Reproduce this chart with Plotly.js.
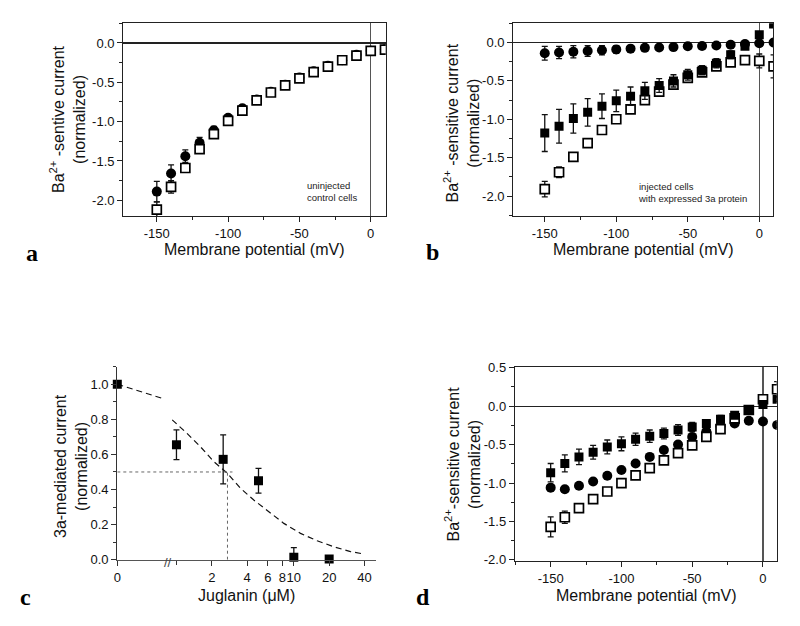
<!DOCTYPE html>
<html>
<head>
<meta charset="utf-8">
<script src="https://cdn.plot.ly/plotly-3.0.1.min.js"></script>
<style>html,body{margin:0;padding:0;background:#fff;}#chart{width:800px;height:626px;}</style>
</head>
<body>
<div id="chart"></div>
<script>
// ---------- data ----------
const voltage = [-150,-140,-130,-120,-110,-100,-90,-80,-70,-60,-50,-40,-30,-20,-10,0,10];

// panel a (uninjected control cells)
const aCircle    = [-1.89,-1.66,-1.44,-1.27,-1.11,-0.95,-0.83,-0.72,-0.62,-0.53,-0.44,-0.36,-0.29,-0.22,-0.15,-0.10,-0.08];
const aCircleErr = [0.13,0.11,0.08,0.07,0.05,0.04,0.04,0.03,0.03,0.03,0.03,0.03,0.03,0.03,0.03,0.03,0.03];
const aOpen      = [-2.12,-1.83,-1.59,-1.35,-1.16,-0.99,-0.86,-0.73,-0.63,-0.54,-0.45,-0.37,-0.30,-0.22,-0.16,-0.10,-0.085];
const aOpenErr   = [0.10,0.08,0.05,0.04,0.04,0.03,0.03,0.03,0.03,0.03,0.03,0.03,0.03,0.03,0.03,0.03,0.03];

// panel b (injected cells with expressed 3a protein)
const bCircle    = [-0.14,-0.13,-0.12,-0.11,-0.10,-0.09,-0.08,-0.07,-0.065,-0.06,-0.05,-0.045,-0.04,-0.03,-0.02,-0.01,0.0];
const bCircleErr = [0.09,0.08,0.08,0.07,0.06,0.05,0.04,0.03,0.03,0.03,0.03,0.03,0.03,0.03,0.03,0.03,0.03];
const bFilled    = [-1.18,-1.09,-0.99,-0.91,-0.83,-0.76,-0.70,-0.63,-0.56,-0.50,-0.42,-0.36,-0.27,-0.16,-0.05,0.10,0.24];
const bFilledErr = [0.24,0.22,0.19,0.18,0.16,0.14,0.12,0.11,0.09,0.08,0.07,0.06,0.06,0.05,0.04,0.03,0.03];
const bOpen      = [-1.91,-1.69,-1.49,-1.31,-1.14,-1.00,-0.87,-0.75,-0.64,-0.55,-0.46,-0.39,-0.31,-0.26,-0.23,-0.24,-0.31];
const bOpenErr   = [0.10,0.07,0.04,0.03,0.03,0.03,0.03,0.03,0.03,0.03,0.03,0.03,0.03,0.03,0.04,0.09,0.15];

// panel c (Juglanin dose response)
const cZeroConc  = [0];
const cZeroResp  = [1.0];
const cConc      = [1, 2.5, 5, 10, 20];
const cResp      = [0.655, 0.572, 0.45, 0.014, 0.004];
const cRespErr   = [0.085, 0.14, 0.07, 0.055, 0.0];
const fitLeftX   = [0, 0.9];
const fitLeftY   = [1.0, 0.915];
const fitX       = [0.92,1.23,1.6,2.08,2.71,3.51,4.56,5.93,8.22,11.4,15.8,21.9,30.4,40];
const fitY       = [0.797,0.72,0.644,0.559,0.493,0.407,0.34,0.283,0.207,0.15,0.108,0.074,0.046,0.032];
const ic50       = 2.72;
const halfLevel  = 0.5;
const cTickVals  = [2,4,6,8,10,20,40];
const cTickText  = ['2','4','6','8','10','20','40'];

// panel d
const dCircle    = [-1.06,-1.08,-1.035,-0.98,-0.905,-0.83,-0.745,-0.66,-0.57,-0.50,-0.40,-0.33,-0.26,-0.225,-0.19,-0.20,-0.245];
const dCircleErr = [0.03,0.03,0.03,0.03,0.03,0.03,0.03,0.03,0.03,0.03,0.03,0.03,0.03,0.03,0.03,0.03,0.03];
const dFilled    = [-0.866,-0.745,-0.66,-0.60,-0.53,-0.49,-0.43,-0.39,-0.355,-0.31,-0.27,-0.225,-0.17,-0.12,-0.05,0.02,0.09];
const dFilledErr = [0.12,0.11,0.10,0.09,0.09,0.09,0.08,0.08,0.07,0.07,0.06,0.05,0.05,0.04,0.03,0.03,0.03];
const dOpen      = [-1.57,-1.445,-1.325,-1.21,-1.11,-1.0,-0.90,-0.805,-0.705,-0.61,-0.51,-0.40,-0.30,-0.16,-0.05,0.09,0.22];
const dOpenErr   = [0.13,0.08,0.04,0.03,0.03,0.03,0.03,0.03,0.03,0.03,0.03,0.03,0.03,0.03,0.03,0.05,0.10];

const vTickVals = [-150,-100,-50,0];
const vTickText = ['-150','-100','-50','0'];

// ---------- styling helpers ----------
const FONT = 'Liberation Sans, Arial, sans-serif';
const SERIF = 'Liberation Serif, Times New Roman, serif';
const W = 800, H = 626;
const px = v => v / W;
const py = v => 1 - v / H;

function err(arr){ return {type:'data', array:arr, visible:true, color:'#111', thickness:1.3, width:3}; }
function filledCircle(x,y,e,xa,ya){
  return {x:x,y:y,xaxis:xa,yaxis:ya,type:'scatter',mode:'markers',error_y:err(e),
    marker:{symbol:'circle',size:10,color:'#000'}};
}
function filledSquare(x,y,e,xa,ya){
  return {x:x,y:y,xaxis:xa,yaxis:ya,type:'scatter',mode:'markers',error_y:err(e),
    marker:{symbol:'square',size:9,color:'#000'}};
}
function openSquare(x,y,e,xa,ya){
  return {x:x,y:y,xaxis:xa,yaxis:ya,type:'scatter',mode:'markers',error_y:err(e),
    marker:{symbol:'square',size:9,color:'#fff',line:{color:'#000',width:1.7}}};
}

const traces = [
  // a
  filledCircle(voltage,aCircle,aCircleErr,'x','y'),
  openSquare(voltage,aOpen,aOpenErr,'x','y'),
  // b
  openSquare(voltage,bOpen,bOpenErr,'x2','y2'),
  filledSquare(voltage,bFilled,bFilledErr,'x2','y2'),
  filledCircle(voltage,bCircle,bCircleErr,'x2','y2'),
  // c
  {x:fitLeftX,y:fitLeftY,xaxis:'x3',yaxis:'y3',type:'scatter',mode:'lines',line:{color:'#111',width:1.2,dash:'6px,4px'},cliponaxis:false},
  {x:fitX,y:fitY,xaxis:'x4',yaxis:'y3',type:'scatter',mode:'lines',line:{color:'#111',width:1.2,dash:'6px,4px'},cliponaxis:false},
  {x:[0,1],y:[halfLevel,halfLevel],xaxis:'x3',yaxis:'y3',type:'scatter',mode:'lines',line:{color:'#666',width:1,dash:'dot'}},
  {x:[0.88,3.0],y:[halfLevel,halfLevel],xaxis:'x4',yaxis:'y3',type:'scatter',mode:'lines',line:{color:'#666',width:1,dash:'dot'}},
  {x:[ic50,ic50],y:[0,halfLevel],xaxis:'x4',yaxis:'y3',type:'scatter',mode:'lines',line:{color:'#666',width:1,dash:'dot'}},
  {x:cZeroConc,y:cZeroResp,xaxis:'x3',yaxis:'y3',type:'scatter',mode:'markers',cliponaxis:false,
    marker:{symbol:'square',size:9,color:'#000'}},
  {x:cConc,y:cResp,xaxis:'x4',yaxis:'y3',type:'scatter',mode:'markers',cliponaxis:false,error_y:err(cRespErr),
    marker:{symbol:'square',size:9,color:'#000'}},
  // d
  filledCircle(voltage,dCircle,dCircleErr,'x5','y4'),
  openSquare(voltage,dOpen,dOpenErr,'x5','y4'),
  filledSquare(voltage,dFilled,dFilledErr,'x5','y4')
];

const tickFont = {family:FONT,size:13,color:'#111'};
const titleFont = {family:FONT,size:16,color:'#111'};

function vAxis(domain, range, anchor){
  return {domain:domain, range:range, anchor:anchor, showgrid:false, automargin:false,
    showline:true, mirror:true, linecolor:'#222', linewidth:1.2,
    zeroline:true, zerolinecolor:'#555', zerolinewidth:1.2,
    ticks:'outside', ticklen:5, tickwidth:1, tickcolor:'#222', tickangle:0,
    tickmode:'array', tickvals:vTickVals, ticktext:vTickText, tickfont:tickFont,
    minor:{tickmode:'linear', tick0:0, dtick:25, ticks:'outside', ticklen:3, tickcolor:'#222', showgrid:false}};
}
function iAxis(domain, range, anchor, tvals){
  return {domain:domain, range:range, anchor:anchor, showgrid:false, automargin:false,
    showline:true, mirror:true, linecolor:'#222', linewidth:1.2,
    zeroline:true, zerolinecolor:'#222', zerolinewidth:1.2,
    ticks:'outside', ticklen:5, tickwidth:1, tickcolor:'#222',
    tickmode:'array', tickvals:tvals, ticktext:tvals.map(v=>v.toFixed(1)), tickfont:tickFont,
    minor:{tickmode:'linear', tick0:0, dtick:0.25, ticks:'outside', ticklen:3, tickcolor:'#222', showgrid:false}};
}
function ann(text, x, y, opts){
  return Object.assign({text:text, xref:'paper', yref:'paper', x:px(x), y:py(y), xanchor:'center', yanchor:'middle', showarrow:false, font:titleFont}, opts||{});
}
const panelFont = {family:SERIF,size:24,color:'#000'};
const noteFont = {family:FONT,size:9.5,color:'#222'};

const layout = {
  width:W, height:H, margin:{l:0,r:0,t:0,b:0},
  paper_bgcolor:'#fff', plot_bgcolor:'#fff', showlegend:false,
  font:{family:FONT,color:'#111'},
  // a
  xaxis: vAxis([px(123.3),px(385.7)],[-173.5,10.5],'y'),
  yaxis: iAxis([py(216),py(23.3)],[-2.2,0.25],'x',[-2,-1.5,-1,-0.5,0]),
  // b
  xaxis2: vAxis([px(513.3),px(773)],[-172,9.6],'y2'),
  yaxis2: iAxis([py(216),py(23.3)],[-2.26,0.25],'x2',[-2,-1.5,-1,-0.5,0]),
  // c
  xaxis3: {domain:[px(117.3),px(170)], range:[0,1], anchor:'y3', showgrid:false, zeroline:false, automargin:false,
    showline:true, linecolor:'#555', linewidth:1.5, ticks:'outside', ticklen:5, tickcolor:'#333', tickangle:0,
    tickmode:'array', tickvals:[0], ticktext:['0'], tickfont:tickFont},
  xaxis4: {type:'log', domain:[px(170),px(376)], range:[-0.055,1.70], anchor:'y3', showgrid:false, zeroline:false, automargin:false,
    showline:true, linecolor:'#555', linewidth:1.5, ticks:'outside', ticklen:5, tickcolor:'#333', tickangle:0,
    tickmode:'array', tickvals:cTickVals, ticktext:cTickText, tickfont:tickFont,
    minor:{tickmode:'array', tickvals:[1], ticks:'outside', ticklen:4, tickcolor:'#333', showgrid:false}},
  yaxis3: {domain:[py(559.7),py(366.7)], range:[0,1.1], anchor:'x3', showgrid:false, zeroline:false, automargin:false,
    showline:true, linecolor:'#333', linewidth:1.2, ticks:'outside', ticklen:5, tickcolor:'#333',
    tickmode:'array', tickvals:[0,0.2,0.4,0.6,0.8,1.0], ticktext:['0.0','0.2','0.4','0.6','0.8','1.0'], tickfont:tickFont,
    minor:{tickmode:'linear', tick0:0, dtick:0.1, ticks:'outside', ticklen:3, tickcolor:'#333', showgrid:false}},
  // d
  xaxis5: vAxis([px(515),px(776.7)],[-175.2,9.7],'y4'),
  yaxis4: iAxis([py(560.7),py(366.7)],[-2.01,0.513],'x5',[-2,-1.5,-1,-0.5,0,0.5]),
  annotations:[
    // panel letters
    ann('<b>a</b>', 32, 253, {font:panelFont}),
    ann('<b>b</b>', 432, 252, {font:panelFont}),
    ann('<b>c</b>', 25, 597, {font:panelFont}),
    ann('<b>d</b>', 423, 597, {font:panelFont}),
    // axis titles
    ann('Membrane potential (mV)', 255, 250),
    ann('Membrane potential (mV)', 643, 250),
    ann('Juglanin (\u03bcM)', 246.7, 595),
    ann('Membrane potential (mV)', 646.7, 595),
    ann('Ba<sup>2+</sup> -sentive current<br>(normalized)', 68, 119, {textangle:-90}),
    ann('Ba<sup>2+</sup> -sensitive current<br>(normalized)', 462.5, 123, {textangle:-90}),
    ann('3a-mediated current<br>(normalized)', 71, 466, {textangle:-90}),
    ann('Ba<sup>2+</sup>-sensitive current<br>(normalized)', 462.5, 464, {textangle:-90}),
    // notes
    ann('uninjected<br>control cells', 305, 191, {xanchor:'left', align:'left', font:noteFont}),
    ann('injected cells<br>with expressed 3a protein', 635.5, 192.5, {xanchor:'left', align:'left', font:noteFont}),
    // axis break mark
    ann('//', 168, 562, {font:{family:FONT,size:13,color:'#444'}})
  ]
};

Plotly.newPlot('chart', traces, layout, {displayModeBar:false, staticPlot:true});
</script>
</body>
</html>
